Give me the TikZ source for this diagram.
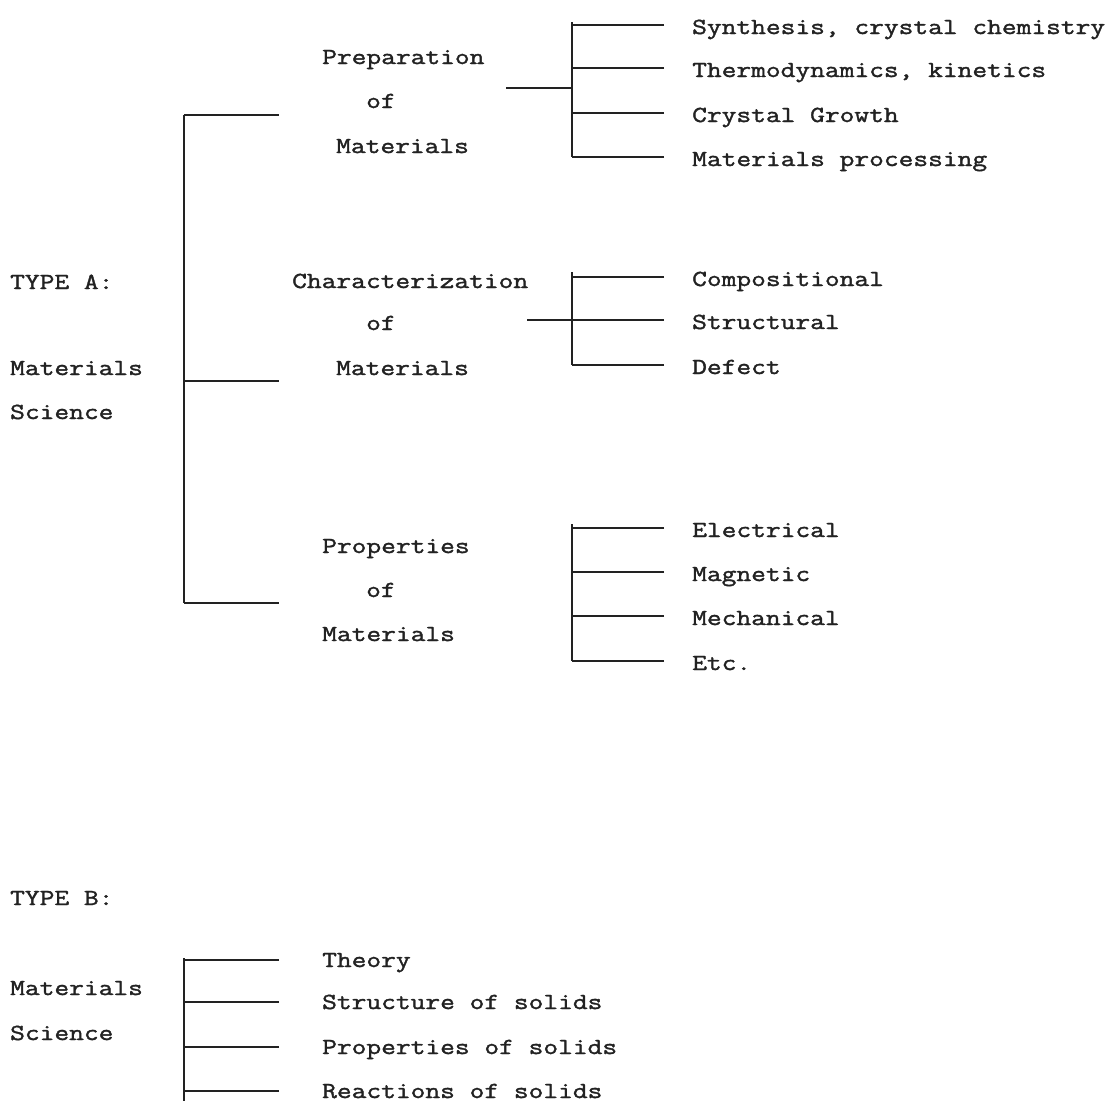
\documentclass[tikz,border=0pt]{standalone}
\usepackage{fontspec}
\setmonofont[FakeStretch=1.245, FakeBold=1.6]{Latin Modern Mono}
\definecolor{ink}{HTML}{222222}
\begin{document}
\begin{tikzpicture}[x=1pt,y=-1pt,
  lbl/.style={anchor=base west, inner sep=0pt, text=ink,
              font=\ttfamily\fontsize{23}{28}\selectfont},
  wire/.style={line width=1.4pt, draw=ink}]
\useasboundingbox (0,0) rectangle (1110,1101);

% ---- Type A: headings ----
\node[lbl] (ta)  at (10,289) {TYPE A:};
\node[lbl] (tam) at (10,375) {Materials};
\node[lbl] (tas) at (10,419) {Science};

% ---- Type A: the three groups ----
\node[lbl] (p1) at (322,64)  {Preparation};
\node[lbl] (p2) at (366,108) {of};
\node[lbl] (p3) at (336,153) {Materials};
\node[lbl] (c1) at (292,288) {Characterization};
\node[lbl] (c2) at (366,330) {of};
\node[lbl] (c3) at (336,375) {Materials};
\node[lbl] (r1) at (322,553) {Properties};
\node[lbl] (r2) at (366,597) {of};
\node[lbl] (r3) at (322,641) {Materials};

% ---- Type A: leaves ----
\node[lbl] (syn) at (692,34)  {Synthesis, crystal chemistry};
\node[lbl] (thd) at (692,77)  {Thermodynamics, kinetics};
\node[lbl] (cgr) at (692,122) {Crystal Growth};
\node[lbl] (mpr) at (692,166) {Materials processing};
\node[lbl] (cmp) at (692,286) {Compositional};
\node[lbl] (str) at (692,329) {Structural};
\node[lbl] (dfc) at (692,374) {Defect};
\node[lbl] (ele) at (692,537) {Electrical};
\node[lbl] (mag) at (692,581) {Magnetic};
\node[lbl] (mec) at (692,625) {Mechanical};
\node[lbl] (etc) at (692,670) {Etc.};

% ---- Type B ----
\node[lbl] (tb)  at (10,905)  {TYPE B:};
\node[lbl] (tbm) at (10,995)  {Materials};
\node[lbl] (tbs) at (10,1040) {Science};
\node[lbl] (thy) at (322,967)  {Theory};
\node[lbl] (sos) at (322,1009) {Structure of solids};
\node[lbl] (pos) at (322,1054) {Properties of solids};
\node[lbl] (ros) at (322,1098) {Reactions of solids};

% ---- bars ----
\coordinate (abar) at (184,0);
\coordinate (sbar) at (572,0);
\coordinate (pa) at (279,115);
\coordinate (ca) at (279,381);
\coordinate (ra) at (279,603);
\coordinate (pj) at (506,88);
\coordinate (cj) at (527,0);
\coordinate (ptop) at (572,22);
\coordinate (ctop) at (572,272);
\coordinate (rtop) at (572,524);
\coordinate (btop) at (184,958);
\coordinate (bbot) at (184,1101);

% main tree of type A
\draw[wire] (abar |- pa) -- (abar |- ra);
\foreach \g in {pa,ca,ra} \draw[wire] (abar |- \g) -- (\g);

% branches towards each leaf
\foreach \n in {syn,thd,cgr,mpr,cmp,str,dfc,ele,mag,mec,etc}
  \draw[wire] (\n.base west) ++(-28,-9) coordinate (\n-e) -- (sbar |- \n-e);

% sub-bars
\draw[wire] (ptop) -- (sbar |- mpr-e);
\draw[wire] (ctop) -- (sbar |- dfc-e);
\draw[wire] (rtop) -- (sbar |- etc-e);

% joins from the groups
\draw[wire] (pj) -- (sbar |- pj);
\draw[wire] (cj |- str-e) -- (sbar |- str-e);

% type B tree
\draw[wire] (btop) -- (bbot);
\foreach \n in {thy,sos,pos,ros}
  \draw[wire] (\n.base west) ++(-43,-7) coordinate (\n-e) -- (abar |- \n-e);
\end{tikzpicture}
\end{document}
